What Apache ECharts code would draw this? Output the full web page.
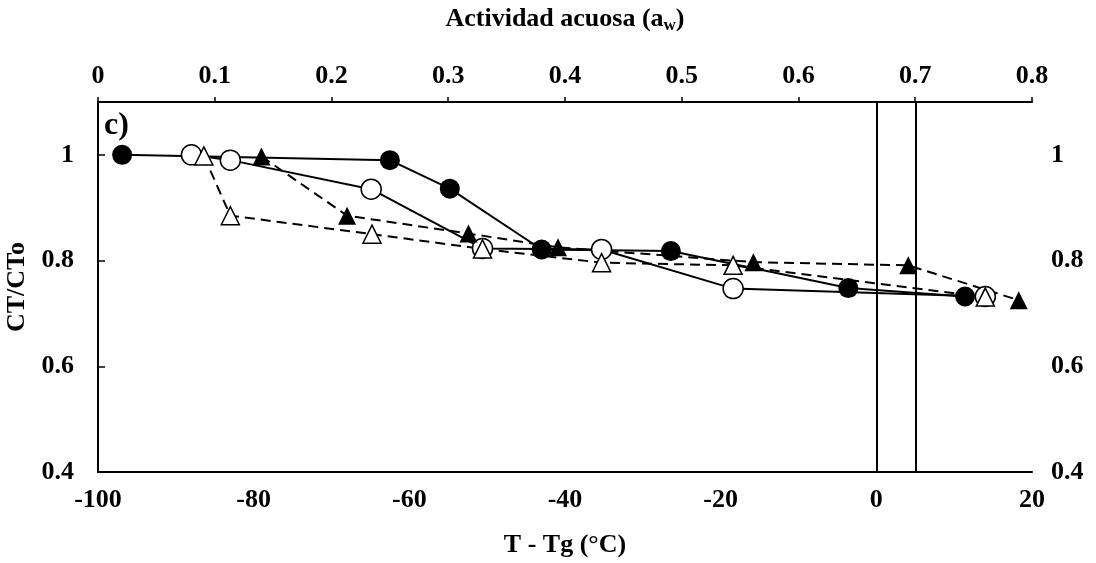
<!DOCTYPE html>
<html>
<head>
<meta charset="utf-8">
<script src="https://cdn.jsdelivr.net/npm/echarts@6/dist/echarts.min.js"></script>
<style>
  html, body { margin: 0; padding: 0; background: #fff; }
  #chart { width: 1096px; height: 563px; }
</style>
</head>
<body>
<div id="chart"></div>
<script>
// datos (eje inferior T - Tg)
const circleFilledX = [-96.9, -62.5, -54.8, -43.0, -26.4, -3.6, 11.4]
const circleFilledY = [1.0, 0.99, 0.936, 0.821, 0.818, 0.748, 0.732]
const circleOpenX = [-88.0, -83.0, -64.9, -50.6, -35.3, -18.4, 14.0]
const circleOpenY = [1.0, 0.99, 0.935, 0.823, 0.821, 0.747, 0.732]
const triFilledX = [-79.0, -68.0, -52.4, -40.9, -15.8, 4.1, 18.3]
const triFilledY = [0.997, 0.885, 0.851, 0.825, 0.797, 0.791, 0.725]
const triOpenX = [-86.4, -83.0, -64.8, -50.6, -35.3, -18.4, 14.0]
const triOpenY = [0.998, 0.885, 0.850, 0.822, 0.796, 0.791, 0.731]
// lineas verticales
const vLines = [0, 5]

const pairs = (xs, ys) => xs.map((x, i) => [x, ys[i]])
const font = 'Liberation Serif'
const labelStyle = { color: '#000', fontFamily: font, fontWeight: 'bold', fontSize: 26 }
const axisLine = { show: true, lineStyle: { color: '#000', width: 2 } }

const chart = echarts.init(document.getElementById('chart'))

const makeSeries = (data, symbol, size, filled, dashed) => ({
  type: 'line',
  data: data,
  xAxisIndex: 0,
  yAxisIndex: 0,
  symbol: symbol,
  symbolSize: size,
  showAllSymbol: true,
  lineStyle: { color: '#000', width: 2, type: dashed ? [10, 6] : 'solid' },
  itemStyle: {
    color: filled ? '#000' : '#fff',
    borderColor: '#000',
    borderWidth: filled ? 0 : 1.5
  },
  animation: false
})

const series = [
  makeSeries(pairs(circleFilledX, circleFilledY), 'circle', 20, true, false),
  makeSeries(pairs(circleOpenX, circleOpenY), 'circle', 20, false, false),
  makeSeries(pairs(triFilledX, triFilledY), 'triangle', 18, true, true),
  makeSeries(pairs(triOpenX, triOpenY), 'triangle', 18, false, true)
]
// lineas verticales en T - Tg = 0 y 5
series[0].markLine = {
  silent: true,
  symbol: 'none',
  label: { show: false },
  lineStyle: { color: '#000', width: 2, type: 'solid' },
  data: vLines.map(v => ({ xAxis: v }))
}

chart.setOption({
  animation: false,
  grid: { left: 98, right: 64, top: 102, bottom: 91, outerBoundsMode: 'none' },
  xAxis: [{
    type: 'value',
    position: 'bottom',
    min: -100, max: 20, interval: 20,
    axisLine: axisLine,
    axisTick: { show: false },
    splitLine: { show: false },
    axisLabel: { ...labelStyle, margin: 15 },
    name: 'T - Tg (°C)',
    nameLocation: 'middle',
    nameGap: 60,
    nameTextStyle: labelStyle
  }, {
    type: 'value',
    position: 'top',
    min: 0, max: 0.8, interval: 0.1,
    axisLine: axisLine,
    axisTick: { show: true, inside: false, length: 5, lineStyle: { color: '#000', width: 1.5 } },
    splitLine: { show: false },
    axisLabel: { ...labelStyle, margin: 13 },
    name: 'Actividad acuosa (a{sub|w})',
    nameLocation: 'middle',
    nameGap: 68,
    nameTextStyle: {
      ...labelStyle,
      rich: {
        sub: { fontFamily: font, fontWeight: 'bold', fontSize: 17, color: '#000', verticalAlign: 'bottom', padding: [12, 0, 0, 0] }
      }
    }
  }],
  yAxis: [{
    type: 'value',
    position: 'left',
    min: 0.4, max: 1.1, interval: 0.2,
    axisLine: axisLine,
    axisTick: { show: false },
    splitLine: { show: false },
    axisLabel: { ...labelStyle, margin: 24, showMaxLabel: false },
    name: 'CT/CTo',
    nameLocation: 'middle',
    nameGap: 66,
    nameRotate: 90,
    nameTextStyle: labelStyle
  }, {
    type: 'value',
    position: 'right',
    min: 0.4, max: 1.1, interval: 0.2,
    axisLine: axisLine,
    axisTick: { show: true, inside: false, length: 7, lineStyle: { color: '#000', width: 1.5 } },
    splitLine: { show: false },
    axisLabel: { ...labelStyle, margin: 19, showMaxLabel: false }
  }],
  graphic: [{
    type: 'text',
    left: 104,
    top: 110,
    style: { text: 'c)', fill: '#000', font: 'bold 32px "Liberation Serif"' }
  }],
  series: series
})
</script>
</body>
</html>
